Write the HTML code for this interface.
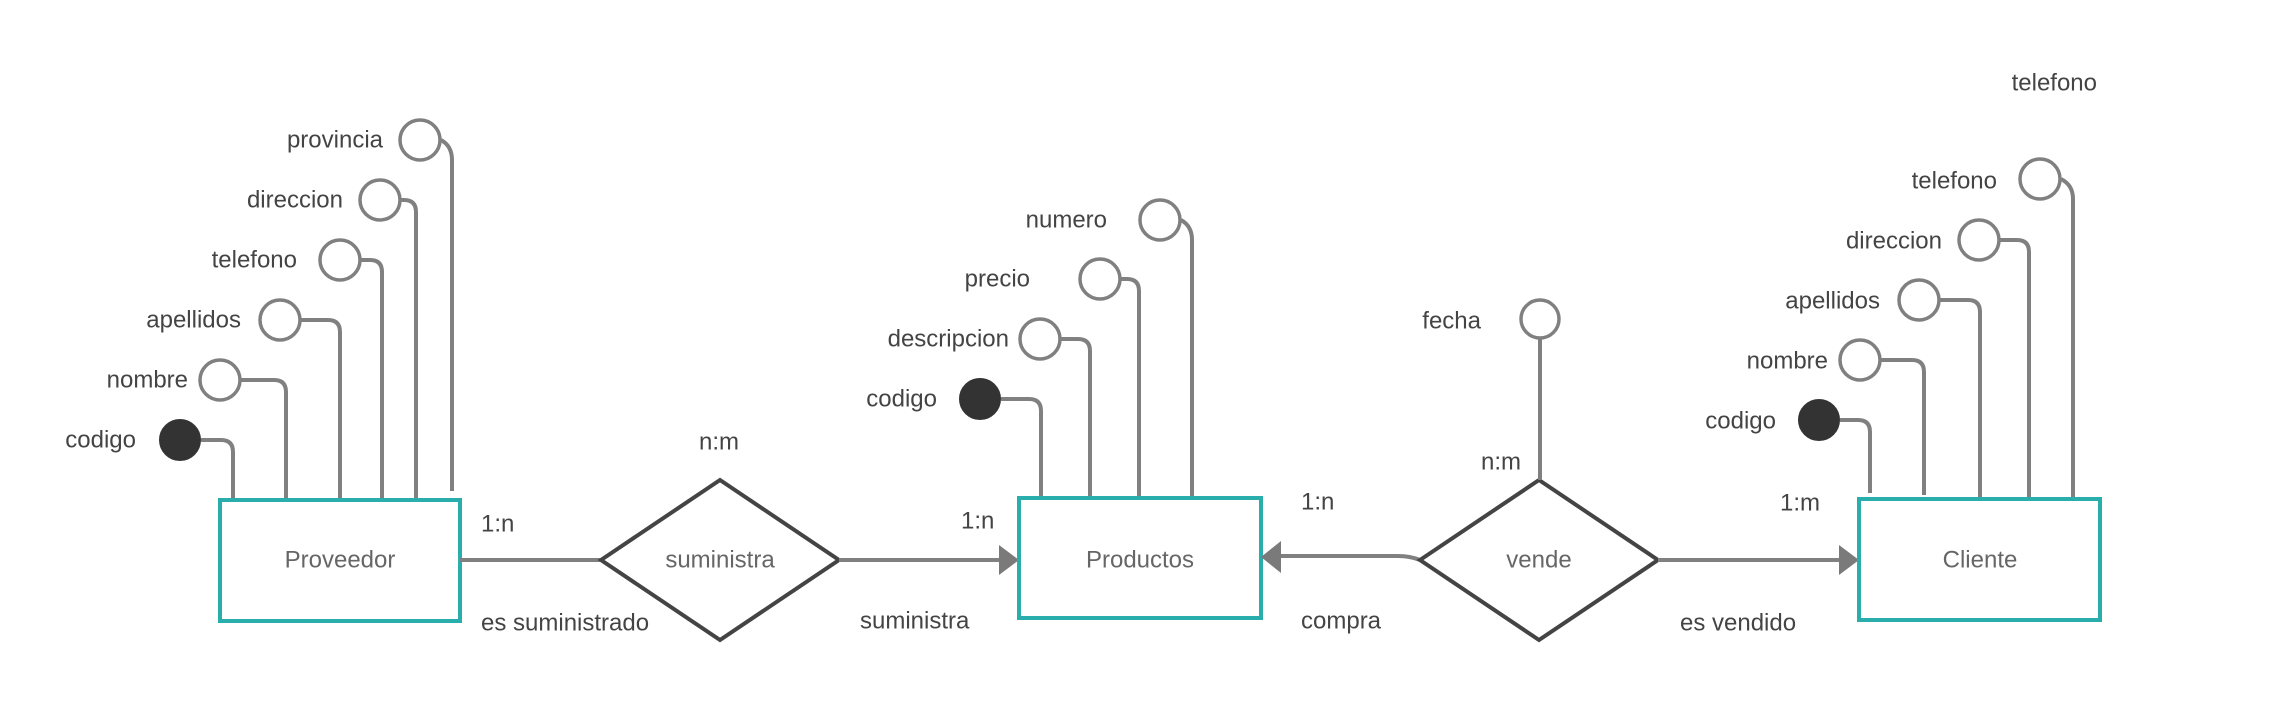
<!DOCTYPE html>
<html><head><meta charset="utf-8"><style>
html,body{margin:0;padding:0;background:#fff;}
svg{display:block;}
text{font-family:"Liberation Sans",sans-serif;font-size:24px;fill:#444;dominant-baseline:middle;}
.a{fill:none;stroke:#808080;stroke-width:4;}
.c{fill:#fff;stroke:#808080;stroke-width:3.5;}
.k{fill:#333;stroke:#333;stroke-width:2;}
.e{fill:#fff;stroke:#2aaeab;stroke-width:4;}
.d{fill:#fff;stroke:#444;stroke-width:4;}
.m{fill:#7a7a7a;}
</style></head><body>
<svg width="2281" height="701" viewBox="0 0 2281 701" xmlns="http://www.w3.org/2000/svg">
<!-- Proveedor attributes -->
<path class="a" d="M201 440 H221 Q233 440 233 452 V499"/>
<path class="a" d="M241 380 H274 Q286 380 286 392 V499"/>
<path class="a" d="M301 320 H328 Q340 320 340 332 V499"/>
<path class="a" d="M361 260 H370 Q382 260 382 272 V499"/>
<path class="a" d="M401 200 H404 Q416 200 416 212 V499"/>
<path class="a" d="M441 140 Q452 146 452 160 V491"/>
<circle class="k" cx="180" cy="440" r="20"/>
<circle class="c" cx="220" cy="380" r="20"/>
<circle class="c" cx="280" cy="320" r="20"/>
<circle class="c" cx="340" cy="260" r="20"/>
<circle class="c" cx="380" cy="200" r="20"/>
<circle class="c" cx="420" cy="140" r="20"/>
<text x="136" y="441" text-anchor="end">codigo</text>
<text x="188" y="381" text-anchor="end">nombre</text>
<text x="241" y="321" text-anchor="end">apellidos</text>
<text x="297" y="261" text-anchor="end">telefono</text>
<text x="343" y="201" text-anchor="end">direccion</text>
<text x="383" y="141" text-anchor="end">provincia</text>
<rect class="e" x="220" y="500" width="240" height="121"/>
<text x="340" y="561" text-anchor="middle" style="fill:#666">Proveedor</text>

<!-- suministra -->
<line class="a" x1="460" y1="560" x2="601" y2="560"/>
<polygon class="d" points="601,560 720,480 839,560 720,640"/>
<text x="720" y="561" text-anchor="middle" style="fill:#666">suministra</text>
<text x="719" y="443" text-anchor="middle">n:m</text>
<text x="481" y="525">1:n</text>
<text x="481" y="624">es suministrado</text>
<line class="a" x1="839" y1="560" x2="1003" y2="560"/>
<polygon class="m" points="999,545 1019,560 999,575"/>
<text x="961" y="522">1:n</text>
<text x="860" y="622">suministra</text>

<!-- Productos attributes -->
<path class="a" d="M1001 399 H1029 Q1041 399 1041 411 V498"/>
<path class="a" d="M1061 339 H1078 Q1090 339 1090 351 V498"/>
<path class="a" d="M1121 279 H1127 Q1139 279 1139 291 V498"/>
<path class="a" d="M1181 220 Q1192 226 1192 240 V498"/>
<circle class="k" cx="980" cy="399" r="20"/>
<circle class="c" cx="1040" cy="339" r="20"/>
<circle class="c" cx="1100" cy="279" r="20"/>
<circle class="c" cx="1160" cy="220" r="20"/>
<text x="937" y="400" text-anchor="end">codigo</text>
<text x="1009" y="340" text-anchor="end">descripcion</text>
<text x="1030" y="280" text-anchor="end">precio</text>
<text x="1107" y="221" text-anchor="end">numero</text>
<rect class="e" x="1019" y="498" width="242" height="120"/>
<text x="1140" y="561" text-anchor="middle" style="fill:#666">Productos</text>

<!-- vende -->
<path class="a" d="M1420 560 Q1410 556 1398 556 H1277"/>
<polygon class="m" points="1281,541 1261,557 1281,573"/>
<polygon class="d" points="1420,560 1539,480 1658,560 1539,640"/>
<text x="1539" y="561" text-anchor="middle" style="fill:#666">vende</text>
<line class="a" x1="1540" y1="339" x2="1540" y2="480"/>
<circle class="c" cx="1540" cy="319" r="19"/>
<text x="1481" y="322" text-anchor="end">fecha</text>
<text x="1481" y="463">n:m</text>
<text x="1301" y="503">1:n</text>
<text x="1301" y="622">compra</text>
<line class="a" x1="1658" y1="560" x2="1843" y2="560"/>
<polygon class="m" points="1839,545 1859,560 1839,575"/>
<text x="1780" y="504">1:m</text>
<text x="1680" y="624">es vendido</text>

<!-- Cliente attributes -->
<path class="a" d="M1840 420 H1858 Q1870 420 1870 432 V493"/>
<path class="a" d="M1881 360 H1912 Q1924 360 1924 372 V495"/>
<path class="a" d="M1940 300 H1968 Q1980 300 1980 312 V499"/>
<path class="a" d="M2000 240 H2017 Q2029 240 2029 252 V499"/>
<path class="a" d="M2061 179 Q2073 185 2073 199 V499"/>
<circle class="k" cx="1819" cy="420" r="20"/>
<circle class="c" cx="1860" cy="360" r="20"/>
<circle class="c" cx="1919" cy="300" r="20"/>
<circle class="c" cx="1979" cy="240" r="20"/>
<circle class="c" cx="2040" cy="179" r="20"/>
<text x="1776" y="422" text-anchor="end">codigo</text>
<text x="1828" y="362" text-anchor="end">nombre</text>
<text x="1880" y="302" text-anchor="end">apellidos</text>
<text x="1942" y="242" text-anchor="end">direccion</text>
<text x="1997" y="182" text-anchor="end">telefono</text>
<text x="2097" y="84" text-anchor="end">telefono</text>
<rect class="e" x="1859" y="499" width="241" height="121"/>
<text x="1980" y="561" text-anchor="middle" style="fill:#666">Cliente</text>
</svg>
</body></html>
